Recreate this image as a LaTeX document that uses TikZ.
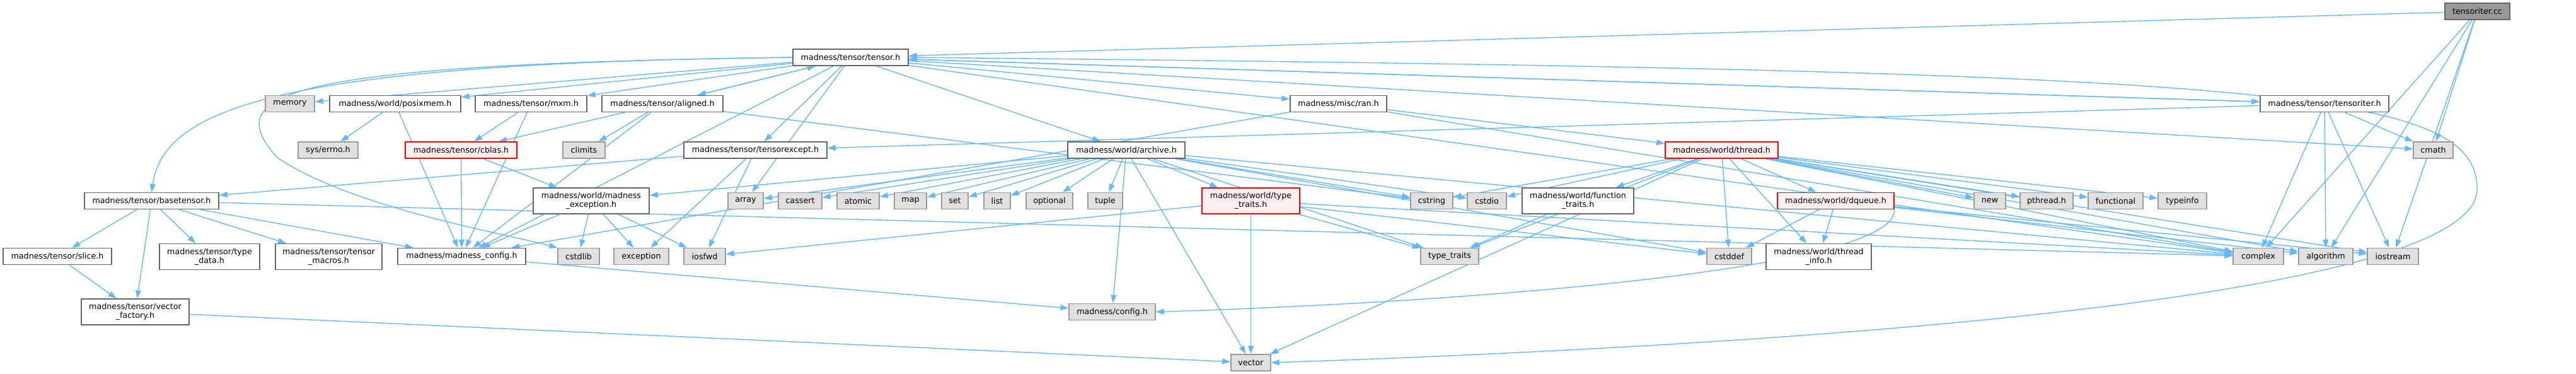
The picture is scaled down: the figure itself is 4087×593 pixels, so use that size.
\documentclass[tikz,border=0pt]{standalone}
\usepackage{fontspec}
\setmainfont{DejaVu Sans}
\usetikzlibrary{arrows.meta,backgrounds}

\definecolor{edgeblue}{HTML}{63B8FF}
\definecolor{sysfill}{HTML}{E0E0E0}
\definecolor{sysline}{HTML}{999999}
\definecolor{hdrline}{HTML}{666666}
\definecolor{redfill}{HTML}{FFF0F0}

\tikzset{
  hdr/.style={draw=hdrline, fill=white, line width=1.5pt, inner sep=0pt,
    minimum height=26pt, align=center,
    font=\fontsize{12.7}{14}\selectfont},
  hdrtwo/.style={hdr, minimum height=41pt},
  sysbox/.style={hdr, draw=sysline, fill=sysfill},
  redbox/.style={hdr, draw=red, fill=redfill},
  redtwo/.style={redbox, minimum height=41pt},
  rootbox/.style={hdr, draw=hdrline, fill=sysline},
  dep/.style={draw=edgeblue, line width=1.4pt,
    -{Triangle[length=13pt,width=9pt]}}
}

\begin{document}
\begin{tikzpicture}[x=1pt,y=-1pt]
\useasboundingbox (0,0) rectangle (4087,593);

% The file itself
\node[rootbox, minimum width=103] (cc) at (3930.5,18) {tensoriter.cc};

% Row 1
\node[hdr, minimum width=183] (tensorh) at (1349.5,91) {madness/tensor/tensor.h};

% Row 2
\node[sysbox, minimum width=78] (memory) at (460,164.5) {memory};
\node[hdr, minimum width=208] (posixmem) at (627,164.5) {madness/world/posixmem.h};
\node[hdr, minimum width=177] (mxm) at (842.5,164.5) {madness/tensor/mxm.h};
\node[hdr, minimum width=192] (aligned) at (1051,164.5) {madness/tensor/aligned.h};
\node[hdr, minimum width=153] (ran) at (2123.5,164.5) {madness/misc/ran.h};
\node[hdr, minimum width=204] (titerh) at (3688,164.5) {madness/tensor/tensoriter.h};

% Row 3
\node[sysbox, minimum width=95] (errno) at (520.5,238) {sys/errno.h};
\node[redbox, minimum width=177] (cblas) at (731.5,238) {madness/tensor/cblas.h};
\node[sysbox, minimum width=67] (climits) at (926.5,238) {climits};
\node[hdr, minimum width=227] (texcept) at (1198.5,238) {madness/tensor/tensorexcept.h};
\node[hdr, minimum width=186] (archive) at (1787,238) {madness/world/archive.h};
\node[redbox, minimum width=179] (thread) at (2731.5,238) {madness/world/thread.h};
\node[sysbox, minimum width=63] (cmath) at (3860.5,238) {cmath};

% Row 4
\node[hdr, minimum width=213] (basetensor) at (240.5,318.5) {madness/tensor/basetensor.h};
\node[hdrtwo, minimum width=184] (mexcept) at (938,318.5) {madness/world/madness\\\_exception.h};
\node[sysbox, minimum width=56] (array) at (1183,318.5) {array};
\node[sysbox, minimum width=69] (cassert) at (1269.5,318.5) {cassert};
\node[sysbox, minimum width=67] (atomic) at (1361.5,318.5) {atomic};
\node[sysbox, minimum width=51] (map) at (1444.5,318.5) {map};
\node[sysbox, minimum width=42] (set) at (1515,318.5) {set};
\node[sysbox, minimum width=42] (list) at (1582,318.5) {list};
\node[sysbox, minimum width=74] (optional) at (1665,318.5) {optional};
\node[sysbox, minimum width=55] (tuple) at (1753.5,318.5) {tuple};
\node[redtwo, minimum width=155] (wtraits) at (1984.5,318.5) {madness/world/type\\\_traits.h};
\node[sysbox, minimum width=67] (cstring) at (2271.5,318.5) {cstring};
\node[sysbox, minimum width=62] (cstdio) at (2359,318.5) {cstdio};
\node[hdrtwo, minimum width=177] (ftraits) at (2503.5,318.5) {madness/world/function\\\_traits.h};
\node[redbox, minimum width=185] (dqueue) at (2912.5,318.5) {madness/world/dqueue.h};
\node[sysbox, minimum width=50] (new) at (3157,318.5) {new};
\node[sysbox, minimum width=84] (pthread) at (3247,318.5) {pthread.h};
\node[sysbox, minimum width=87] (functional) at (3356.5,318.5) {functional};
\node[sysbox, minimum width=77] (typeinfo) at (3462.5,318.5) {typeinfo};

% Row 5
\node[hdr, minimum width=172] (slice) at (91,406.5) {madness/tensor/slice.h};
\node[hdrtwo, minimum width=159] (typedata) at (332.5,407) {madness/tensor/type\\\_data.h};
\node[hdrtwo, minimum width=169] (tmacros) at (521.5,407) {madness/tensor/tensor\\\_macros.h};
\node[hdr, minimum width=203] (mconfig) at (732.5,406.5) {madness/madness\_config.h};
\node[sysbox, minimum width=66] (cstdlib) at (918,406.5) {cstdlib};
\node[sysbox, minimum width=87] (exception) at (1017.5,406.5) {exception};
\node[sysbox, minimum width=66] (iosfwd) at (1118,406.5) {iosfwd};
\node[sysbox, minimum width=92] (stdtraits) at (2300,406.5) {type\_traits};
\node[sysbox, minimum width=71] (cstddef) at (2743.5,406.5) {cstddef};
\node[hdrtwo, minimum width=167] (tinfo) at (2885.5,407) {madness/world/thread\\\_info.h};
\node[sysbox, minimum width=80] (complex) at (3583,406.5) {complex};
\node[sysbox, minimum width=86] (algorithm) at (3690,406.5) {algorithm};
\node[sysbox, minimum width=81] (iostream) at (3796.5,406.5) {iostream};

% Row 6 and 7
\node[hdrtwo, minimum width=171] (vfactory) at (214.5,494.5) {madness/tensor/vector\\\_factory.h};
\node[sysbox, minimum width=137] (config) at (1764.5,494.5) {madness/config.h};
\node[sysbox, minimum width=63] (vector) at (1984.5,575) {vector};

\begin{pgfonlayer}{background}
% tensoriter.cc includes
\draw[dep] (cc) -- (tensorh);
\draw[dep] (cc) -- (cmath);
\draw[dep] (cc) -- (complex);
\draw[dep] (cc) -- (algorithm);
\draw[dep] (cc) -- (iostream);

% tensor.h includes
\draw[dep] (tensorh) -- (memory);
\draw[dep] (tensorh) -- (posixmem);
\draw[dep] (tensorh) -- (mxm);
\draw[dep] (tensorh) -- (aligned);
\draw[dep] (tensorh.west) .. controls (450,100) and (260,170) .. (basetensor.north);
\draw[dep] (tensorh.west) .. controls (430,102) and (350,150) .. (440,250)
  .. controls (560,330) and (800,370) .. (cstdlib.north west);
\draw[dep] (tensorh) -- (mconfig);
\draw[dep] (tensorh) -- (texcept);
\draw[dep] (tensorh) -- (archive);
\draw[dep] (tensorh) -- (array);
\draw[dep] (tensorh) -- (ran);
\draw[dep] (tensorh) -- (titerh);
\draw[dep] (tensorh) -- (cmath);
\draw[dep] (tensorh) -- (complex);
\draw[dep] (tensorh.east) .. controls (3600,112) and (3930,140) .. (3930,300)
  .. controls (3930,470) and (2900,545) .. (vector.east);

% back edges into tensor.h
\draw[dep] (aligned) -- (tensorh);
\draw[dep] (titerh) -- (tensorh);

% small headers
\draw[dep] (posixmem) -- (errno);
\draw[dep] (posixmem) -- (mconfig);
\draw[dep] (mxm) -- (cblas);
\draw[dep] (mxm) -- (mconfig);
\draw[dep] (aligned) -- (cblas);
\draw[dep] (aligned) -- (climits);
\draw[dep] (aligned) -- (mconfig);
\draw[dep] (aligned) -- (cstring);
\draw[dep] (cblas) -- (mconfig);
\draw[dep] (cblas) -- (mexcept);
\draw[dep] (texcept) -- (basetensor);
\draw[dep] (texcept) -- (exception);
\draw[dep] (texcept) -- (iosfwd);
\draw[dep] (mexcept) -- (mconfig);
\draw[dep] (mexcept) -- (cstdlib);
\draw[dep] (mexcept) -- (exception);
\draw[dep] (mexcept) -- (iosfwd);
\draw[dep] (mconfig) -- (config);

% basetensor.h
\draw[dep] (basetensor) -- (slice);
\draw[dep] (basetensor) -- (vfactory);
\draw[dep] (basetensor) -- (typedata);
\draw[dep] (basetensor) -- (tmacros);
\draw[dep] (basetensor) -- (mconfig);
\draw[dep] (basetensor) -- (complex);
\draw[dep] (slice) -- (vfactory);
\draw[dep] (vfactory) -- (vector);

% archive.h
\draw[dep] (archive) -- (mexcept);
\draw[dep] (archive) -- (array);
\draw[dep] (archive) -- (cassert);
\draw[dep] (archive) -- (atomic);
\draw[dep] (archive) -- (map);
\draw[dep] (archive) -- (set);
\draw[dep] (archive) -- (list);
\draw[dep] (archive) -- (optional);
\draw[dep] (archive) -- (tuple);
\draw[dep] (archive) -- (wtraits);
\draw[dep] (archive) -- (config);
\draw[dep] (archive) -- (vector);
\draw[dep] (archive) -- (cstring);
\draw[dep] (archive) -- (cstdio);
\draw[dep] (archive) -- (cstddef);
\draw[dep] (archive) -- (stdtraits);
\draw[dep] (archive) -- (complex);
\draw[dep] (wtraits) -- (iosfwd);
\draw[dep] (wtraits) -- (stdtraits);
\draw[dep] (wtraits) -- (cstddef);
\draw[dep] (wtraits) -- (vector);
\draw[dep] (wtraits) -- (complex);

% ran.h
\draw[dep] (ran) -- (mconfig);
\draw[dep] (ran) -- (thread);
\draw[dep] (ran) -- (complex);

% thread.h
\draw[dep] (thread) -- (cstring);
\draw[dep] (thread) -- (cstdio);
\draw[dep] (thread) -- (ftraits);
\draw[dep] (thread) -- (dqueue);
\draw[dep] (thread) -- (cstddef);
\draw[dep] (thread) -- (tinfo);
\draw[dep] (thread) -- (stdtraits);
\draw[dep] (thread) -- (vector);
\draw[dep] (thread) -- (new);
\draw[dep] (thread) -- (pthread);
\draw[dep] (thread) -- (functional);
\draw[dep] (thread) -- (typeinfo);
\draw[dep] (thread) -- (complex);
\draw[dep] (thread) -- (algorithm);
\draw[dep] (thread) -- (iostream);
\draw[dep] (ftraits) -- (stdtraits);
\draw[dep] (dqueue) -- (cstddef);
\draw[dep] (dqueue) -- (tinfo);
\draw[dep] (dqueue.south east) .. controls (3010,430) and (2300,480) .. (config.east);
\draw[dep] (dqueue) -- (algorithm);
\draw[dep] (dqueue) -- (iostream);

% tensoriter.h
\draw[dep] (titerh) -- (texcept);
\draw[dep] (titerh) -- (cmath);
\draw[dep] (titerh) -- (complex);
\draw[dep] (titerh) -- (algorithm);
\draw[dep] (titerh) -- (iostream);
\end{pgfonlayer}

\end{tikzpicture}
\end{document}
